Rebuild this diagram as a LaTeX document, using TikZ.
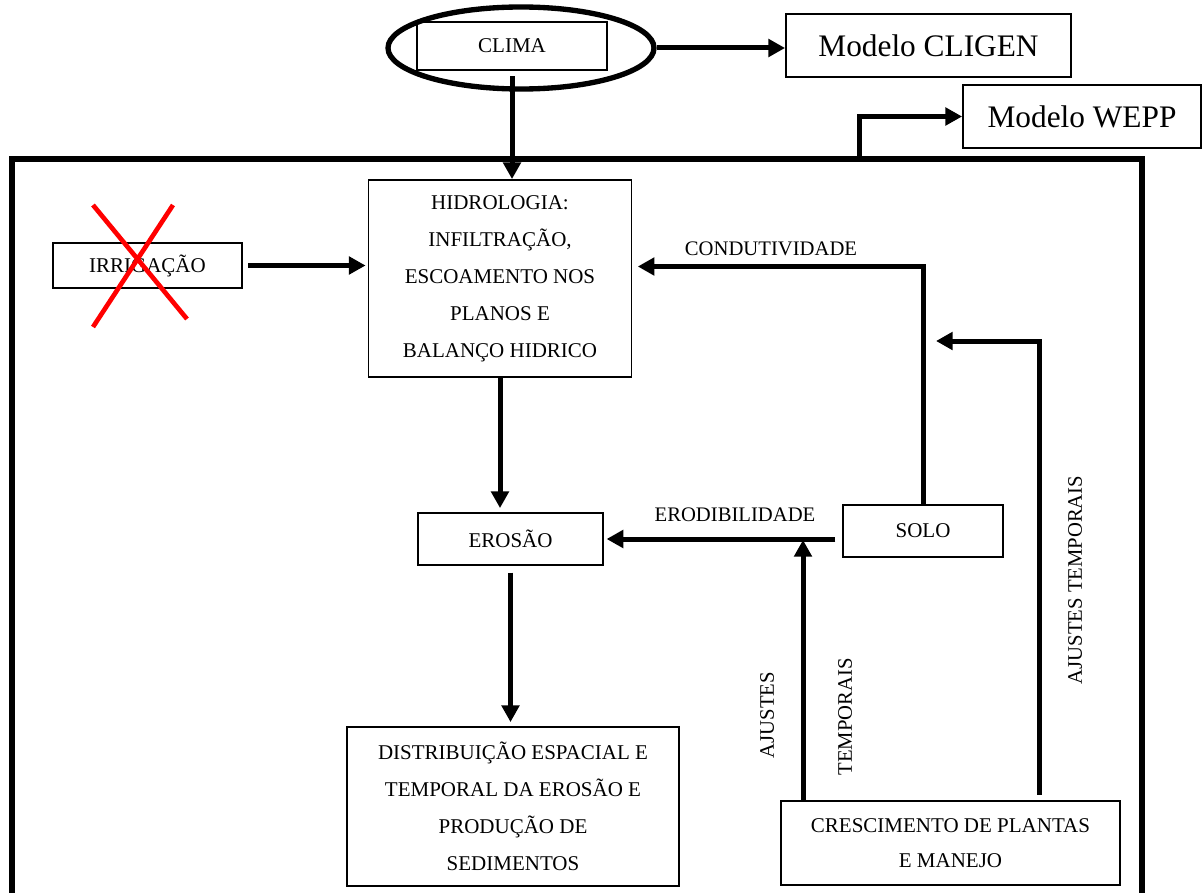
\documentclass[tikz,border=0pt]{standalone}
\usepackage{fontspec}
\setmainfont{Liberation Serif}
\usetikzlibrary{arrows.meta,shapes.geometric}

\begin{document}
\begin{tikzpicture}[x=0.75pt,y=-0.75pt,
  caixa/.style={draw,line width=1.4pt,align=center,inner sep=0pt,font=\fontsize{15.75}{27.75}\selectfont},
  grande/.style={draw,line width=1.4pt,inner sep=0pt,font=\fontsize{23.5}{28}\selectfont},
  rotulo/.style={inner sep=0pt,font=\fontsize{15.5}{18}\selectfont},
  seta/.style={line width=3.75pt,-{Triangle[length=12.5pt,width=13pt]}},
  moldura/.style={line width=4.5pt}]
\useasboundingbox (0,0) rectangle (1202,892);
\draw[moldura] (12,900) |- (1142,159) -- (1142,900);
\node[caixa,minimum width=142.5pt,minimum height=36pt] (clima) at (512,46) {CLIMA};
\node[draw,ellipse,line width=4pt,inner sep=0pt,minimum width=199.5pt,minimum height=61.5pt] (anel) at (521,48) {};
\node[grande,minimum width=213.75pt,minimum height=47.25pt] (cligen) at (928.5,45.5) {Modelo CLIGEN};
\node[grande,minimum width=178.5pt,minimum height=47.25pt] (wepp) at (1082,116.5) {Modelo WEPP};
\node[caixa,minimum width=197.25pt,minimum height=147.75pt] (hidro) at (500,278.5)
  {HIDROLOGIA:\\INFILTRAÇÃO,\\ESCOAMENTO NOS\\PLANOS E\\BALANÇO HIDRICO};
\node[caixa,minimum width=141.75pt,minimum height=33.75pt] (irrig) at (147.5,265.5) {IRRIGAÇÃO};
\node[caixa,minimum width=138.75pt,minimum height=39pt] (erosao) at (510.5,539) {EROSÃO};
\node[caixa,minimum width=120pt,minimum height=39pt] (solo) at (923,531) {SOLO};
\node[caixa,minimum width=249pt,minimum height=119.25pt] (distrib) at (513,806.5)
  {DISTRIBUIÇÃO ESPACIAL E\\TEMPORAL DA EROSÃO E\\PRODUÇÃO DE\\SEDIMENTOS};
\node[caixa,font=\fontsize{15.75}{26.25}\selectfont,minimum width=254.25pt,minimum height=63pt] (cresc) at (950.5,843)
  {CRESCIMENTO DE PLANTAS\\E MANEJO};
\coordinate (saida) at (859,159);
\coordinate (alvo) at (936,341);
\coordinate (alvo2) at (803,540);
\draw[red,line width=3.5pt] (93,205) -- (187,319) (173,205) -- (93,327);
\draw[seta] (anel.east) -- (anel.east -| cligen.west);
\draw[seta,shorten <=4pt] (clima.south) -- (clima.south |- hidro.north);
\draw[seta] (saida) |- (wepp.west);
\draw[seta,shorten <=4pt,shorten >=1.5pt] (irrig.east) -- (irrig.east -| hidro.west);
\draw[seta,shorten >=4pt] (solo.north) |- ([yshift=9pt]hidro.east);
\draw[seta,shorten <=4pt] ([xshift=66.75pt]cresc.north) |- (alvo);
\draw[seta,shorten >=3pt] (hidro.south) -- (hidro.south |- erosao.north);
\draw[seta,shorten <=5pt,shorten >=2pt] (solo.west |- erosao.east) -- (erosao.east);
\draw[seta,shorten <=5pt,shorten >=3pt] (erosao.south) -- (erosao.south |- distrib.north);
\draw[seta] (cresc.north -| alvo2) -- (alvo2);
\node[rotulo] (cond) at (771,249) {CONDUTIVIDADE};
\node[rotulo] (erod) at (735,515) {ERODIBILIDADE};
\node[rotulo,rotate=90] (ajustes) at (1075,580) {AJUSTES TEMPORAIS};
\node[rotulo,rotate=90] (ajustesA) at (767,715) {AJUSTES};
\node[rotulo,rotate=90] (ajustesB) at (845,717) {TEMPORAIS};
\end{tikzpicture}
\end{document}
